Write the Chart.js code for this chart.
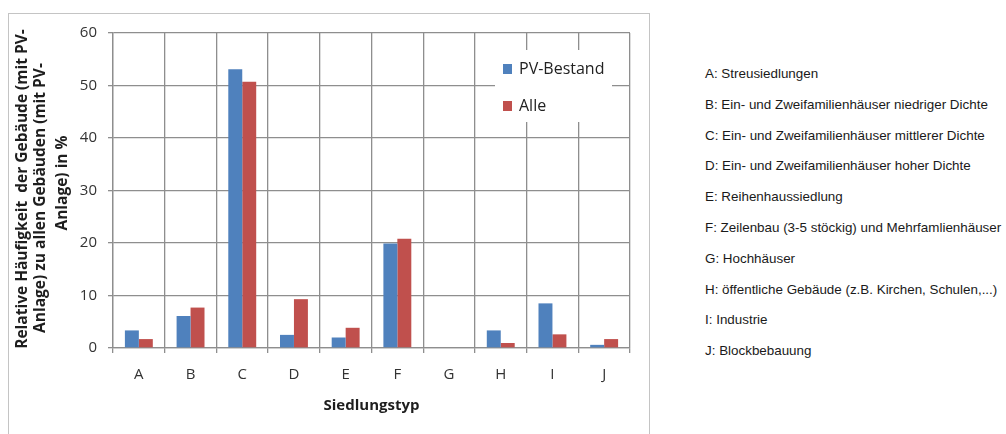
<!DOCTYPE html>
<html lang="de">
<head>
<meta charset="utf-8">
<title>Relative Häufigkeit nach Siedlungstyp</title>
<script src="https://cdn.jsdelivr.net/npm/chart.js@4.4.1/dist/chart.umd.min.js"></script>
<style>
  html, body { margin: 0; padding: 0; background: #ffffff; }
  body { width: 1006px; height: 434px; position: relative; overflow: hidden; }
  #frame {
    position: absolute; left: 8px; top: 13px; width: 642px; height: 440px;
    border: 1px solid #c4c4c4; box-sizing: border-box;
  }
  #chartWrap { position: absolute; left: 0; top: 0; width: 660px; height: 434px; }
  #types {
    position: absolute; left: 705px; top: 0; margin: 0; padding: 0; list-style: none;
    font-family: "Liberation Sans", Arial, sans-serif; font-size: 13.4px; color: #1a1a1a;
  }
  #types li { position: absolute; left: 0; white-space: nowrap; line-height: 16px; }
</style>
</head>
<body>
<div id="frame"></div>
<div id="chartWrap"><canvas id="chart" width="660" height="434"></canvas></div>
<ul id="types"></ul>
<script>
// Siedlungstypen and their shares (%)
const categories = ['A', 'B', 'C', 'D', 'E', 'F', 'G', 'H', 'I', 'J'];
const pvBestand = [3.35, 6.1, 53.1, 2.5, 2.0, 19.9, 0, 3.35, 8.5, 0.6];
const alle = [1.7, 7.7, 50.7, 9.3, 3.85, 20.8, 0, 0.95, 2.6, 1.7];
const seriesNames = ['PV-Bestand', 'Alle'];
const seriesColors = ['#4f81bd', '#c0504d'];
const yMin = 0;
const yMax = 60;
const yStep = 10;
const xTitle = 'Siedlungstyp';
const yTitleLines = [
  'Relative Häufigkeit  der Gebäude (mit PV-',
  'Anlage) zu allen Gebäuden (mit PV-',
  'Anlage) in %'
];
const typeDescriptions = [
  'A: Streusiedlungen',
  'B: Ein- und Zweifamilienhäuser niedriger Dichte',
  'C: Ein- und Zweifamilienhäuser mittlerer Dichte',
  'D: Ein- und Zweifamilienhäuser hoher Dichte',
  'E: Reihenhaussiedlung',
  'F: Zeilenbau (3-5 stöckig) und Mehrfamlienhäuser',
  'G: Hochhäuser',
  'H: öffentliche Gebäude (z.B. Kirchen, Schulen,...)',
  'I: Industrie',
  'J: Blockbebauung'
];

// Key to the letters, listed to the right of the chart
const list = document.getElementById('types');
typeDescriptions.forEach((t, i) => {
  const li = document.createElement('li');
  li.textContent = t;
  li.style.top = (66 + i * 30.8) + 'px';
  list.appendChild(li);
});

const gridColor = '#8e8e8e';
const fontFamily = '"Open Sans", "Liberation Sans", sans-serif';
const labelFont = { family: fontFamily, size: 15 };

// Rotated, three-line title of the value axis
const yTitlePlugin = {
  id: 'yTitle',
  afterDraw(chart) {
    const ctx = chart.ctx;
    const xs = [23, 41, 63];
    const ys = [189, 198, 183];
    ctx.save();
    ctx.fillStyle = '#1e1e1e';
    ctx.font = 'bold 15.5px ' + fontFamily;
    ctx.textAlign = 'center';
    ctx.textBaseline = 'middle';
    yTitleLines.forEach((line, i) => {
      ctx.save();
      ctx.translate(xs[i], ys[i]);
      ctx.rotate(-Math.PI / 2);
      ctx.fillText(line, 0, 0);
      ctx.restore();
    });
    ctx.restore();
  }
};

// Boxed legend in the upper right corner of the plot
const boxLegendPlugin = {
  id: 'boxLegend',
  afterDraw(chart) {
    const ctx = chart.ctx;
    const area = chart.chartArea;
    const bx = area.right - 135;
    const by = area.top + 17;
    ctx.save();
    ctx.fillStyle = '#ffffff';
    ctx.fillRect(bx, by, 117, 72);
    ctx.font = '16px ' + fontFamily;
    ctx.textBaseline = 'middle';
    chart.data.datasets.forEach((ds, i) => {
      const cy = by + 19 + i * 37;
      ctx.fillStyle = ds.backgroundColor;
      ctx.fillRect(bx + 8, cy - 5, 9, 10);
      ctx.fillStyle = '#222222';
      ctx.fillText(ds.label, bx + 24, cy);
    });
    ctx.restore();
  }
};

new Chart(document.getElementById('chart'), {
  type: 'bar',
  data: {
    labels: categories,
    datasets: [
      { label: seriesNames[0], data: pvBestand, backgroundColor: seriesColors[0] },
      { label: seriesNames[1], data: alle, backgroundColor: seriesColors[1] }
    ]
  },
  options: {
    responsive: false,
    animation: false,
    devicePixelRatio: 1,
    layout: { padding: { left: 0, right: 30, top: 33, bottom: 0 } },
    datasets: { bar: { categoryPercentage: 0.54, barPercentage: 1.0 } },
    plugins: { legend: { display: false }, tooltip: { enabled: false } },
    scales: {
      x: {
        offset: true,
        grid: { display: true, offset: true, color: gridColor, lineWidth: 1.3, drawTicks: true, tickLength: 5 },
        border: { display: true, color: gridColor, width: 1.3 },
        ticks: { color: '#333333', font: labelFont, padding: 13, maxRotation: 0 },
        title: {
          display: true, text: xTitle, color: '#1e1e1e',
          font: { family: fontFamily, size: 15, weight: 'bold' },
          padding: { top: 0, bottom: 19 }
        },
        afterFit(scale) { scale.height = 86; }
      },
      y: {
        min: yMin, max: yMax,
        grid: { color: gridColor, lineWidth: 1.3, drawTicks: true, tickLength: 5 },
        border: { display: true, color: gridColor, width: 1.3 },
        ticks: { stepSize: yStep, color: '#333333', font: labelFont, padding: 11 },
        afterFit(scale) { scale.width = 113; }
      }
    }
  },
  plugins: [yTitlePlugin, boxLegendPlugin]
});
</script>
</body>
</html>
